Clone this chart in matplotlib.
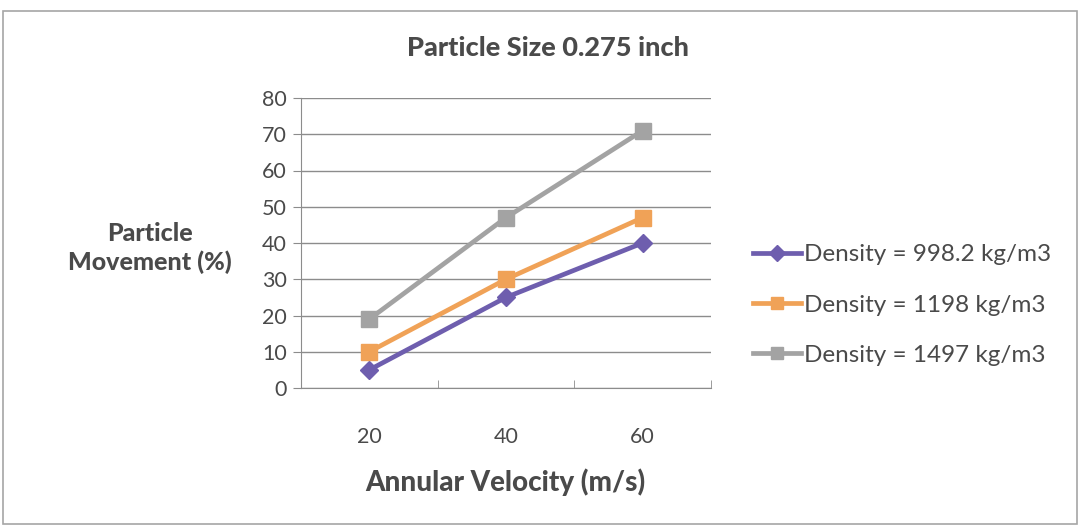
import matplotlib.pyplot as plt
from matplotlib.patches import Rectangle

# data
velocity = ["20", "40", "60"]
density_998 = [5, 25, 40]
density_1198 = [10, 30, 47]
density_1497 = [19, 47, 71]
labels = ["Density = 998.2 kg/m3", "Density = 1198 kg/m3", "Density = 1497 kg/m3"]

plt.rcParams['font.family'] = ['Lato', 'DejaVu Sans']
text_color = "#4a4a4a"

fig = plt.figure(figsize=(10.8, 5.29), dpi=100)
fig.patch.set_facecolor("white")

# outer chart border
fig.patches.append(Rectangle((3 / 1080, 5 / 529), 1074 / 1080, 513 / 529,
                             transform=fig.transFigure, fill=False,
                             edgecolor="#a6a6a6", linewidth=1.2))

ax = fig.add_axes([301 / 1080, 1 - 388 / 529, 410 / 1080, 290 / 529])

x = range(len(velocity))
ax.plot(x, density_998, color="#6E5EAE", marker="D", markersize=9, linewidth=3.4, label=labels[0])
ax.plot(x, density_1198, color="#F0A257", marker="s", markersize=11, linewidth=3.4, label=labels[1])
ax.plot(x, density_1497, color="#A3A3A3", marker="s", markersize=11, linewidth=3.4, label=labels[2])

ax.set_xlim(-0.5, 2.5)
ax.set_ylim(0, 80)
ax.set_yticks(range(0, 81, 10))
ax.set_xticks(list(x))
ax.set_xticklabels(velocity)
ax.set_xticks([-0.5, 0.5, 1.5, 2.5], minor=True)
ax.yaxis.grid(True, color="#8c8c8c", linewidth=1)
ax.set_axisbelow(True)

for side in ["top", "right"]:
    ax.spines[side].set_visible(False)
for side in ["left", "bottom"]:
    ax.spines[side].set_color("#8c8c8c")
ax.tick_params(axis="x", which="major", length=0, pad=28, labelsize=15.5, labelcolor=text_color)
ax.tick_params(axis="x", which="minor", length=6, direction="in", color="#8c8c8c")
ax.tick_params(axis="y", length=6, color="#8c8c8c", labelsize=15.5, labelcolor=text_color, pad=4)

fig.text(548 / 1080, 1 - 48 / 529, "Particle Size 0.275 inch", ha="center", va="center",
         fontsize=19.5, fontweight=900, color=text_color)
fig.text(150 / 1080, 1 - 248 / 529, "Particle\nMovement (%)", ha="center", va="center",
         fontsize=18, fontweight=900, color=text_color, linespacing=1.3)
fig.text(505 / 1080, 1 - 482 / 529, "Annular Velocity (m/s)", ha="center", va="center",
         fontsize=20, fontweight=900, color=text_color)

fig.legend(loc="center left", bbox_to_anchor=(731 / 1080, 1 - 305 / 529), frameon=False,
           fontsize=17.5, labelcolor=text_color, handlelength=2.0, handletextpad=0.1,
           labelspacing=1.2, markerscale=0.85)

fig.savefig("out.png", dpi=100)
